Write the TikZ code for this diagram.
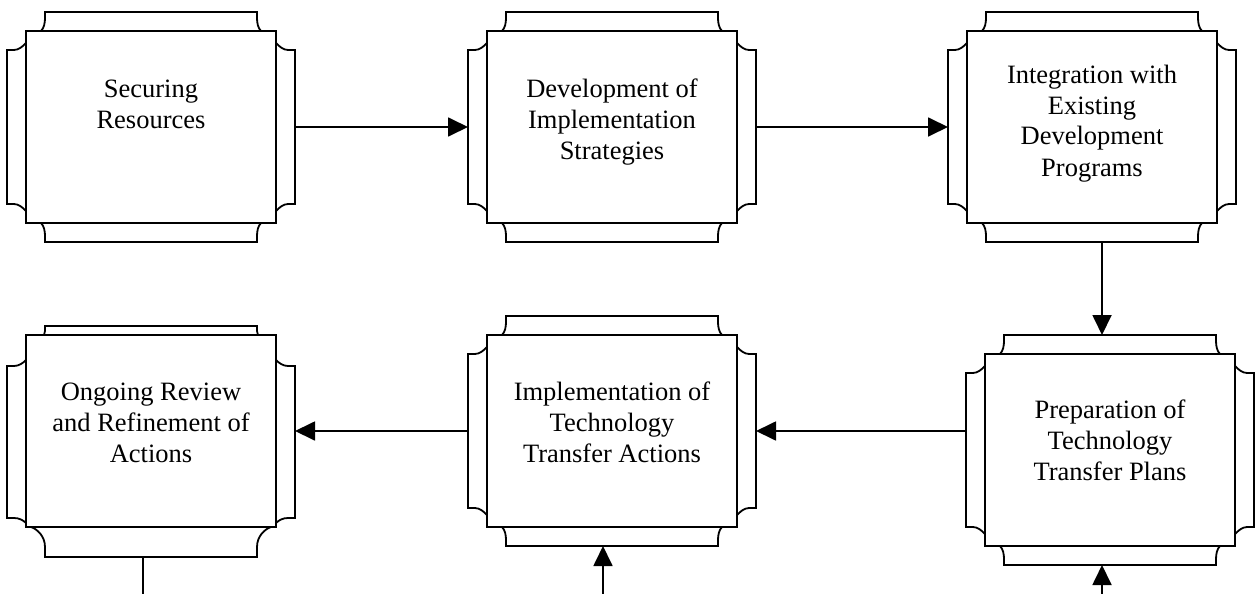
\documentclass[tikz,border=0pt]{standalone}
\usepackage{fontspec}
\setmainfont{Liberation Serif}
\usetikzlibrary{arrows.meta}

\tikzset{
  outline/.style={line width=1.8pt, line join=miter},
  stage/.style={draw, line width=2pt, fill=white, inner sep=0pt},
  caption/.style={inner sep=0pt, anchor=base, font=\fontsize{26.5}{31}\selectfont},
  flow/.style={line width=1.8pt, -{Triangle[length=20pt,width=19pt]}},
  feed/.style={line width=1.8pt},
}

% centred block of lines whose baseline is that of its first line
\newcommand\stagelines[1]{\begin{tabular}[t]{@{}c@{}}#1\end{tabular}}

% #1 name, #2 left, #3 top, #4 right, #5 bottom, #6 first baseline, #7 text
\newcommand\stagebox[7]{%
  \node[stage, minimum width={(#4-#2)*1pt}, minimum height={(#5-#3)*1pt}]
    (#1) at ({(#2+#4)/2},{(#3+#5)/2}) {};
  % top tab
  \draw[outline] (#2+15,#3) .. controls (#2+18,#3-3) and (#2+19,#3-8) .. (#2+19,#3-13)
    -- (#2+19,#3-19) -- (#4-19,#3-19) -- (#4-19,#3-13)
    .. controls (#4-19,#3-8) and (#4-18,#3-3) .. (#4-15,#3);
  % bottom tab
  \draw[outline] (#2+15,#5) .. controls (#2+18,#5+3) and (#2+19,#5+8) .. (#2+19,#5+13)
    -- (#2+19,#5+19) -- (#4-19,#5+19) -- (#4-19,#5+13)
    .. controls (#4-19,#5+8) and (#4-18,#5+3) .. (#4-15,#5);
  % left tab
  \draw[outline] (#2,#3+12) .. controls (#2-3,#3+15) and (#2-7,#3+19) .. (#2-12,#3+19)
    -- (#2-19,#3+19) -- (#2-19,#5-19) -- (#2-12,#5-19)
    .. controls (#2-7,#5-19) and (#2-3,#5-15) .. (#2,#5-12);
  % right tab
  \draw[outline] (#4,#3+12) .. controls (#4+3,#3+15) and (#4+7,#3+19) .. (#4+12,#3+19)
    -- (#4+19,#3+19) -- (#4+19,#5-19) -- (#4+12,#5-19)
    .. controls (#4+7,#5-19) and (#4+3,#5-15) .. (#4,#5-12);
  \coordinate (#1-n) at ({(#2+#4)/2},#3-19);
  \coordinate (#1-s) at ({(#2+#4)/2},#5+19);
  \coordinate (#1-w) at (#2-19,{(#3+#5)/2});
  \coordinate (#1-e) at (#4+19,{(#3+#5)/2});
  \node[caption] (#1-t) at ({(#2+#4)/2},#6) {\stagelines{#7}};
}

\begin{document}
\begin{tikzpicture}[x=1pt, y=-1pt]
  \useasboundingbox (0,0) rectangle (1255,594);

  \stagebox{b1}{26}{31}{276}{223}{97}{Securing\\Resources}
  \stagebox{b2}{487}{31}{737}{223}{97}{Development of\\Implementation\\Strategies}
  \stagebox{b3}{967}{31}{1217}{223}{83}{Integration with\\Existing\\Development\\Programs}
  \stagebox{b5}{487}{335}{737}{527}{400}{Implementation of\\Technology\\Transfer Actions}
  \stagebox{b6}{985}{354}{1235}{546}{418}{Preparation of\\Technology\\Transfer Plans}

  % review stage: its frame sits lower than the box
  \node[stage, minimum width=250pt, minimum height=192pt] (b4) at (151,431) {};
  \draw[outline] (44,335) .. controls (45,333) .. (45,331) -- (45,326) -- (257,326)
    -- (257,331) .. controls (257,333) .. (258,335);
  \draw[outline] (31,527) .. controls (37,529) and (45,536) .. (45,547) -- (45,557)
    -- (257,557) -- (257,547) .. controls (257,536) and (265,529) .. (271,527);
  \draw[outline] (26,360) .. controls (23,363) and (19,366) .. (14,366) -- (7,366)
    -- (7,518) -- (14,518) .. controls (19,518) and (23,520) .. (26,523);
  \draw[outline] (276,360) .. controls (279,363) and (283,366) .. (288,366) -- (295,366)
    -- (295,518) -- (288,518) .. controls (283,518) and (279,520) .. (276,523);
  \coordinate (b4-e) at (295,431);
  \coordinate (b4-s) at (151,557);
  \node[caption] (b4-t) at (151,400) {\stagelines{Ongoing Review\\and Refinement of\\Actions}};

  % connectors
  \draw[flow] (b1-e) -- (b2-w);
  \draw[flow] (b2-e) -- (b3-w);
  \draw[flow] ([xshift=10pt]b3-s) -- ([xshift=10pt]b3-s |- b6-n);
  \draw[flow] (b6-w |- b5-e) -- (b5-e);
  \draw[flow] (b5-w) -- (b4-e);

  % lines leaving and entering at the lower edge
  \coordinate (tail4) at (143,594);
  \coordinate (head5) at (603,594);
  \coordinate (head6) at (1102,594);
  \draw[feed] (b4-s -| tail4) -- (tail4);
  \draw[flow] (head5) -- (head5 |- b5-s);
  \draw[flow] (head6) -- (head6 |- b6-s);
\end{tikzpicture}
\end{document}
